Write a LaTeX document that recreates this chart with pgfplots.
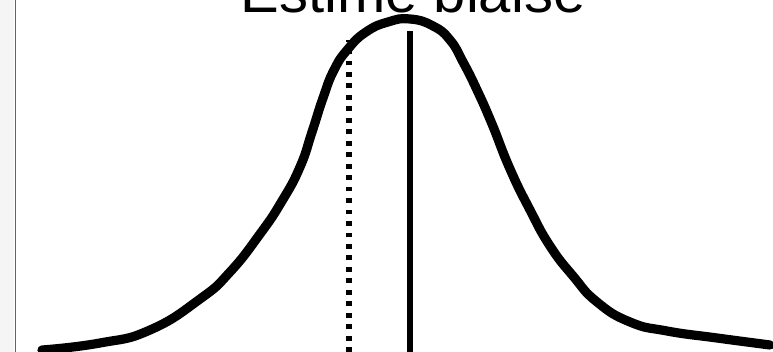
\documentclass[border=0pt]{standalone}
\usepackage{pgfplots}
\pgfplotsset{compat=1.18}
\usepackage{fontspec}
\setmainfont{Liberation Sans}

% one drawing unit = 0.75pt
\begin{document}
\begin{tikzpicture}
\clip (0,0) rectangle (579.75pt,264pt);
% grey margin strip on the left
\fill[black!4] (0,0) rectangle (10.5pt,264pt);
\draw[line width=1.3pt, black!62] (11.6pt,0) -- (11.6pt,264pt);
\begin{axis}[
  at={(0,0)}, anchor=south west,
  scale only axis, width=579.75pt, height=264pt,
  xmin=0, xmax=773, ymin=0, ymax=352,
  hide axis, clip=true,
]
% biased estimate density
\addplot[black, line width=6.9pt, line cap=round, line join=round, smooth, tension=0.85] coordinates {
  (42,2) (100,9) (150,22) (200,53) (230,80) (260,118) (282,151) (300,185)
  (312,220) (323,254) (334,282) (348,303) (366,320) (388,330) (410,333)
  (433,326) (450,312) (463,290) (477,262) (492,228) (510,183)
  (530,142) (550,106) (573,76) (597,50) (630,30) (667,21) (717,14) (770,7)
};
% true value
\addplot[black, line width=3.8pt] coordinates {(410,0) (410,321)};
% mean of the estimate
\addplot[black, line width=3.8pt, dash pattern=on 3.6pt off 5pt] coordinates {(349,0) (349,312)};
\node[anchor=base, font=\fontsize{43.5pt}{50pt}\selectfont, inner sep=0pt] at (axis cs:413,339) {Estimé biaisé};
\end{axis}
\end{tikzpicture}
\end{document}
